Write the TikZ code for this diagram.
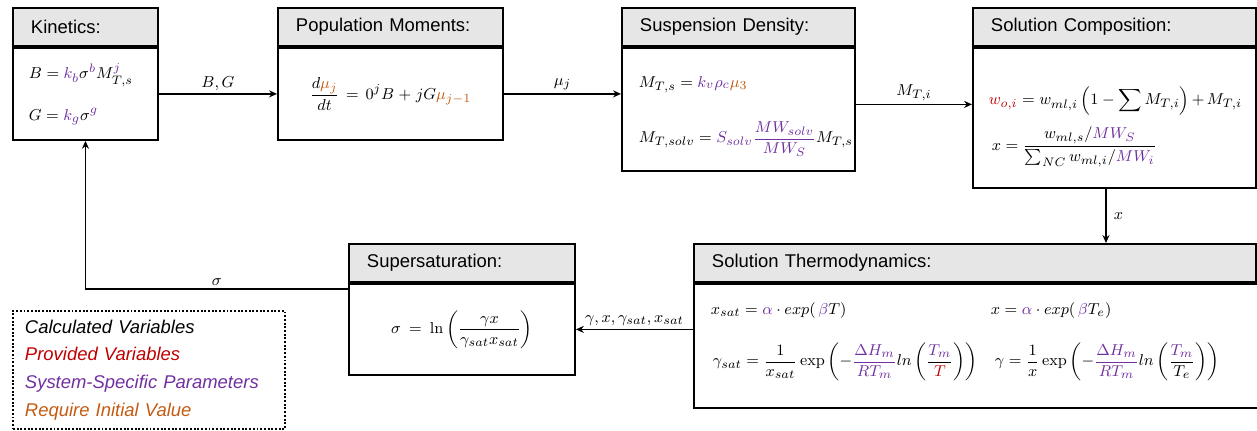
\documentclass[tikz,border=0pt]{standalone}
\usepackage{amsmath}
\usepackage[no-math]{fontspec}
\setmainfont{Liberation Sans}
\usetikzlibrary{arrows.meta,positioning,calc}
\definecolor{parPurple}{RGB}{112,48,160}
\definecolor{initOrange}{RGB}{197,90,17}
\definecolor{givenRed}{RGB}{192,0,0}
\definecolor{headGray}{RGB}{231,230,230}
\newcommand{\cpar}[1]{\textcolor{parPurple}{#1}}
\newcommand{\cini}[1]{\textcolor{initOrange}{#1}}
\newcommand{\cgiv}[1]{\textcolor{givenRed}{#1}}
\newcommand{\fsz}{\fontsize{10.5}{12.6}\selectfont}
\newcommand{\msz}{\fontsize{9.3}{11.2}\selectfont\relpenalty=10000\binoppenalty=10000}

\begin{document}
\begin{tikzpicture}[
    head/.style={draw,fill=headGray,line width=1.1pt,anchor=north west,minimum height=0.76cm,inner xsep=0.36cm,align=left,text width=#1,font=\fsz},
    body/.style={draw,line width=1.1pt,anchor=north west,inner xsep=0.32cm,align=left,text width=#1,font=\msz},
    arrow/.style={-{Stealth[length=4.5pt,width=4pt]},line width=1pt},
    lbl/.style={above,inner sep=1.5pt,font=\msz}
  ]
  \useasboundingbox (0,0) rectangle (25.14,8.6);
  % top row
  \node[head=2.18cm] (kinH) at (0.24,8.46) {Kinetics:};
  \node[body=2.26cm,minimum height=1.84cm] (kin) at (kinH.south west)
    {$B = \cpar{k_b}\sigma^{\cpar{b}}M^{\cpar{j}}_{T,s}$\\[0.4cm]
     $G = \cpar{k_g}\sigma^{\cpar{g}}$};
  \node[head=3.78cm] (popH) at (5.54,8.46) {Population Moments:};
  \node[body=3.86cm,minimum height=1.84cm,align=center] (pop) at (popH.south west)
    {$\displaystyle\frac{d\cini{\mu_j}}{dt} = 0^jB + jG\cini{\mu_{j-1}}$};
  \node[head=3.94cm] (suspH) at (12.42,8.46) {Suspension Density:};
  \node[body=3.98cm,inner xsep=0.34cm,minimum height=2.46cm] (susp) at (suspH.south west)
    {\rule{0pt}{0.5cm}$M_{T,s} = \cpar{k_v\rho_c}\cini{\mu_3}$\\[0.55cm]
     $\displaystyle M_{T,solv} = \cpar{S_{solv}\frac{MW_{solv}}{MW_S}}M_{T,s}$};
  \node[head=4.94cm] (compH) at (19.44,8.46) {Solution Composition:};
  \node[body=5.1cm,inner xsep=0.28cm,minimum height=2.8cm] (comp) at (compH.south west)
    {\rule{0pt}{0.72cm}\hspace{0.04cm}$\displaystyle\cgiv{w_{o,i}} = w_{ml,i}\left(1-\sum M_{T,i}\right)+M_{T,i}$\\[0.2cm]
     \hspace{0.1cm}$\displaystyle x = \frac{w_{ml,s}/\cpar{MW_S}}{\sum_{NC}w_{ml,i}/\cpar{MW_i}}$};
  % bottom row
  \node[head=10.52cm] (thermoH) at (13.86,3.74) {Solution Thermodynamics:};
  \node[body=10.6cm,inner xsep=0.34cm,minimum height=2.48cm] (thermo) at (thermoH.south west)
    {\begin{tabular}{@{}p{5.6cm}@{}l@{}}
     $x_{sat} = \cpar{\alpha}\cdot exp(\,\cpar{\beta}T)$ & $x = \cpar{\alpha}\cdot exp(\,\cpar{\beta}T_e)$\\[0.45cm]
     \hspace{0.04cm}$\displaystyle\gamma_{sat} = \frac{1}{x_{sat}}\exp\left(-\cpar{\frac{\Delta H_m}{RT_m}}ln\left(\frac{\cpar{T_m}}{\cgiv{T}}\right)\right)$ &
     \hspace{0.08cm}$\displaystyle\gamma = \frac{1}{x}\exp\left(-\cpar{\frac{\Delta H_m}{RT_m}}ln\left(\frac{\cpar{T_m}}{T_e}\right)\right)$\rule[-0.5cm]{0pt}{0.5cm}
     \end{tabular}};
  \node[head=3.8cm] (supH) at (6.96,3.74) {Supersaturation:};
  \node[body=3.88cm,minimum height=1.82cm,align=center] (sup) at (supH.south west)
    {$\displaystyle\sigma = \ln\left(\frac{\gamma x}{\gamma_{sat}x_{sat}}\right)$};
  % legend
  \node[draw,densely dotted,line width=1.1pt,anchor=north west,inner xsep=0.24cm,text width=4.96cm,
        minimum height=2.36cm,align=left,font=\fontsize{10.5}{15.7}\selectfont\itshape] (key) at (0.24,2.4)
    {Calculated Variables\\
     \textcolor{givenRed}{Provided Variables}\\
     \textcolor{parPurple}{System-Specific Parameters}\\
     \textcolor{initOrange}{Require Initial Value}};
  % connectors
  \draw[arrow] (kin) -- node[lbl] {$B,G$} (pop);
  \draw[arrow] (pop.east) -- node[lbl] {$\mu_j$} (pop.east -| susp.west);
  \draw[arrow] ([yshift=0.1cm]susp.east) -- node[lbl] {$M_{T,i}$} ([yshift=0.1cm]susp.east -| comp.west);
  \draw[arrow] ([xshift=-0.17cm]comp.south) -- node[right,inner sep=4pt,font=\msz] {$x$} ([xshift=-0.17cm]comp.south |- thermoH.north);
  \draw[arrow] (thermo.west |- sup.east) -- node[lbl] {$\gamma,x,\gamma_{sat},x_{sat}$} (sup.east);
  \draw[arrow] ([yshift=-0.12cm]sup.north west) -| node[lbl,pos=0.25] {$\sigma$} (kin.south);
\end{tikzpicture}
\end{document}
